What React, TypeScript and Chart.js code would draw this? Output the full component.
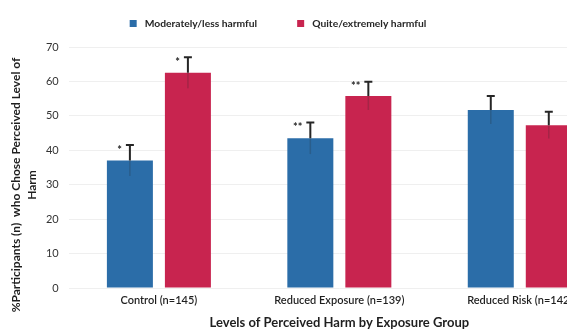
import React, { useEffect, useRef } from "react";
import { Chart, registerables } from "chart.js";

Chart.register(...registerables);

const categories = ["Control (n=145)", "Reduced Exposure (n=139)", "Reduced Risk (n=142)"];
const seriesNames = ["Moderately/less harmful", "Quite/extremely harmful"];
const moderateValues = [37.0, 43.5, 51.7];
const quiteValues = [62.5, 55.8, 47.3];
const moderateErrors = [4.5, 4.6, 4.1];
const quiteErrors = [4.5, 4.1, 3.9];
const moderateMarks = ["*", "**", ""];
const quiteMarks = ["*", "**", ""];
const yTickValues = [0, 10, 20, 30, 40, 50, 60, 70];
const yTitle = ["%Participants (n)  who Chose Perceived Level of            ", "Harm            "];
const xTitle = "Levels of Perceived Harm by Exposure Group";

const BLUE = "#2b6da8";
const RED = "#c8244f";
const FONT = "Lato, 'Open Sans', sans-serif";

const errorBarPlugin = {
  id: "errorBars",
  afterDatasetsDraw(chart: any) {
    const ctx = chart.ctx;
    const y = chart.scales.y;
    chart.data.datasets.forEach((ds: any, di: number) => {
      const meta = chart.getDatasetMeta(di);
      meta.data.forEach((el: any, i: number) => {
        const v = ds.data[i];
        const e = ds.errors[i];
        const x = el.x;
        const yTop = y.getPixelForValue(v + e);
        const yVal = y.getPixelForValue(v);
        const yLow = y.getPixelForValue(v - e);
        ctx.save();
        ctx.strokeStyle = "rgba(40,40,40,0.22)";
        ctx.lineWidth = 1.5;
        ctx.beginPath();
        ctx.moveTo(x, yVal);
        ctx.lineTo(x, yLow);
        ctx.stroke();
        ctx.strokeStyle = "#262626";
        ctx.lineWidth = 2;
        ctx.beginPath();
        ctx.moveTo(x, yVal);
        ctx.lineTo(x, yTop);
        ctx.moveTo(x - 4, yTop);
        ctx.lineTo(x + 4, yTop);
        ctx.stroke();
        const mark = ds.marks[i];
        if (mark) {
          ctx.fillStyle = "#262626";
          ctx.font = `bold 11px ${FONT}`;
          ctx.textAlign = "right";
          ctx.textBaseline = "middle";
          ctx.fillText(mark, x - 8, yTop + 5);
        }
        ctx.restore();
      });
    });
  },
};

const legendPlugin = {
  id: "customLegend",
  afterDraw(chart: any) {
    const ctx = chart.ctx;
    ctx.save();
    ctx.font = `bold 10.3px ${FONT}`;
    ctx.textBaseline = "middle";
    ctx.textAlign = "left";
    const colors = [BLUE, RED];
    const box = 7;
    const gapBox = 8;
    const gapItem = 40;
    const widths = seriesNames.map((n) => ctx.measureText(n).width);
    const total = widths.reduce((a, w) => a + box + gapBox + w, 0) + gapItem;
    let x = 278 - total / 2;
    const cy = 23.5;
    seriesNames.forEach((n, i) => {
      ctx.fillStyle = colors[i];
      ctx.fillRect(x, cy - box / 2, box, box);
      x += box + gapBox;
      ctx.fillStyle = "#262626";
      ctx.fillText(n, x, cy);
      x += widths[i] + gapItem;
    });
    ctx.restore();
  },
};

export default function App() {
  const ref = useRef<HTMLCanvasElement>(null);
  useEffect(() => {
    const chart = new Chart(ref.current!, {
      type: "bar",
      data: {
        labels: categories,
        datasets: [
          {
            label: seriesNames[0],
            data: moderateValues,
            errors: moderateErrors,
            marks: moderateMarks,
            backgroundColor: BLUE,
            categoryPercentage: 0.643,
            barPercentage: 0.793,
          } as any,
          {
            label: seriesNames[1],
            data: quiteValues,
            errors: quiteErrors,
            marks: quiteMarks,
            backgroundColor: RED,
            categoryPercentage: 0.643,
            barPercentage: 0.793,
          } as any,
        ],
      },
      options: {
        animation: false,
        responsive: false,
        layout: { padding: { top: 47, right: 12, left: 0, bottom: 0 } },
        plugins: { legend: { display: false }, tooltip: { enabled: false } },
        scales: {
          x: {
            grid: { display: false, drawTicks: false },
            border: { display: false },
            ticks: { color: "#1f1f1f", font: { family: FONT, size: 11, weight: "600" }, padding: 5.4, maxRotation: 0 },
            title: {
              display: true,
              text: xTitle,
              color: "#1f1f1f",
              font: { family: FONT, size: 13, weight: "bold" },
              padding: { top: 3.2, bottom: 0.2 },
            },
          },
          y: {
            min: 0,
            max: 70,
            afterBuildTicks: (axis: any) => {
              axis.ticks = yTickValues.map((v) => ({ value: v }));
            },
            grid: { color: "#efefef", drawTicks: false },
            border: { display: false },
            ticks: { color: "#333333", font: { family: FONT, size: 11 }, padding: 10 },
            title: {
              display: true,
              text: yTitle,
              color: "#1f1f1f",
              font: { family: FONT, size: 12, weight: "bold", lineHeight: 1.33 },
              padding: { top: 8.5, bottom: -4.5 },
            },
          },
        },
      },
      plugins: [errorBarPlugin, legendPlugin],
    });
    return () => chart.destroy();
  }, []);
  return (
    <div
      style={{
        position: "fixed",
        left: 0,
        top: 0,
        width: 567,
        height: 331,
        overflow: "hidden",
        background: "#ffffff",
      }}
    >
      <canvas ref={ref} width={622} height={331} style={{ display: "block" }} />
    </div>
  );
}
